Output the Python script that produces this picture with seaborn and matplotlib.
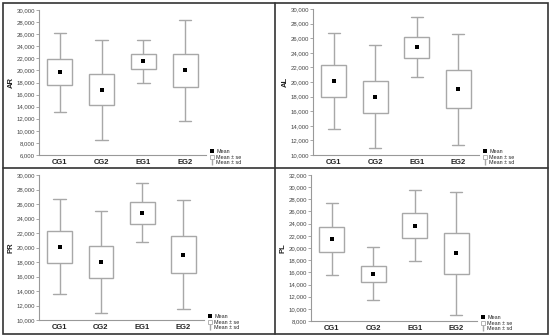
import numpy as np
import pandas as pd
import matplotlib
matplotlib.use("Agg")
import matplotlib.pyplot as plt
import seaborn as sns
from matplotlib.lines import Line2D
from matplotlib.patches import Rectangle

sns.set_theme(style="white")
plt.rcParams['font.family'] = ['Liberation Sans', 'DejaVu Sans']

groups = ["CG1", "CG2", "EG1", "EG2"]
panels = ["AR", "AL", "PR", "PL"]

# per panel: mean, mean-se, mean+se, mean-sd, mean+sd
mean = {"AR": [19.7, 16.8, 21.5, 20.0],
        "AL": [20.1, 18.0, 24.8, 19.0],
        "PR": [20.1, 18.0, 24.8, 19.0],
        "PL": [21.4, 15.8, 23.6, 19.1]}
se_lo = {"AR": [17.6, 14.2, 20.2, 17.3],
         "AL": [17.9, 15.8, 23.3, 16.5],
         "PR": [17.9, 15.8, 23.3, 16.5],
         "PL": [19.4, 14.4, 21.6, 15.7]}
se_hi = {"AR": [21.9, 19.4, 22.8, 22.8],
         "AL": [22.3, 20.2, 26.2, 21.6],
         "PR": [22.3, 20.2, 26.3, 21.6],
         "PL": [23.4, 17.1, 25.7, 22.4]}
sd_lo = {"AR": [13.2, 8.5, 17.9, 11.7],
         "AL": [13.6, 11.0, 20.7, 11.4],
         "PR": [13.6, 11.0, 20.7, 11.5],
         "PL": [15.5, 11.4, 17.9, 9.0]}
sd_hi = {"AR": [26.2, 25.1, 25.1, 28.4],
         "AL": [26.7, 25.1, 28.9, 26.6],
         "PR": [26.7, 25.1, 28.9, 26.6],
         "PL": [27.4, 20.2, 29.5, 29.2]}
ylims = {"AR": (6000, 30000), "AL": (10000, 30000),
         "PR": (10000, 30000), "PL": (8000, 32000)}

W, H = 550, 336
fig = plt.figure(figsize=(5.5, 3.36), dpi=100)

# axes rectangles in pixel coords: left, right, top, bottom
rects = {"AR": (39, 206, 10, 155), "AL": (313, 479, 9, 155),
         "PR": (39, 204, 175, 320), "PL": (311, 477, 175, 321)}

gray = "#a8a8a8"
for p in panels:
    l, r, t, b = rects[p]
    ax = fig.add_axes([l / W, 1 - b / H, (r - l) / W, (b - t) / H])
    rows = []
    for i, g in enumerate(groups):
        for v in [sd_lo[p][i], se_lo[p][i], mean[p][i], se_hi[p][i], sd_hi[p][i]]:
            rows.append({"group": g, "value": v * 1000})
    df = pd.DataFrame(rows)
    sns.boxplot(data=df, x="group", y="value", order=groups, whis=(0, 100),
                width=0.6, color="white", linecolor=gray, linewidth=1.0,
                medianprops={"linewidth": 0}, showfliers=False, ax=ax)
    sns.pointplot(x=groups, y=[m * 1000 for m in mean[p]], order=groups,
                  linestyle="none", marker="s", markersize=3.0,
                  markeredgewidth=0, color="black",
                  errorbar=None, ax=ax)
    ax.set_xlim(-0.5, 3.5)
    lo, hi = ylims[p]
    ax.set_ylim(lo, hi)
    ax.set_yticks(np.arange(lo, hi + 1, 2000))
    ax.set_yticklabels([f"{v:,}" for v in np.arange(lo, hi + 1, 2000)],
                       fontsize=4.3, color="#444444")
    ax.set_xticks(range(4))
    ax.set_xticklabels(groups, fontsize=5.5, fontweight="bold", color="#222222")
    ax.set_xlabel("")
    ax.set_ylabel(p, fontsize=5.5, fontweight="bold", color="#222222", labelpad=1)
    for s in ["top", "right"]:
        ax.spines[s].set_visible(False)
    for s in ["left", "bottom"]:
        ax.spines[s].set_color("#999999")
        ax.spines[s].set_linewidth(0.8)
    ax.tick_params(axis="y", length=2, width=0.6, color="#999999", pad=1, left=True)
    ax.tick_params(axis="x", length=0, pad=3)
    ax.set_facecolor("white")

    handles = [Line2D([], [], marker="s", color="black", linestyle="none",
                      markersize=2.4, markeredgewidth=0),
               Rectangle((0, 0), 1, 1, facecolor="white", edgecolor=gray, linewidth=0.6),
               Line2D([], [], marker="|", color=gray, linestyle="none", markersize=5)]
    ax.legend(handles, ["Mean", "Mean \u00b1 se", "Mean \u00b1 sd"],
              loc="lower left", bbox_to_anchor=(1.01, -0.09), fontsize=3.9,
              frameon=False, handlelength=0.7, handleheight=0.8,
              labelspacing=0.15, borderpad=0, handletextpad=0.4)

# panel frames
lc = "#333333"
fig.add_artist(Rectangle((2.5 / W, 1 - 333.5 / H), 545 / W, 331 / H,
                         transform=fig.transFigure, fill=False,
                         edgecolor=lc, linewidth=1.2))
fig.add_artist(Line2D([275 / W, 275 / W], [1 - 2.5 / H, 1 - 333.5 / H],
                      transform=fig.transFigure, color=lc, linewidth=1.2))
fig.add_artist(Line2D([2.5 / W, 547.5 / W], [1 - 168 / H, 1 - 168 / H],
                      transform=fig.transFigure, color=lc, linewidth=1.2))

fig.savefig("out.png", dpi=100, facecolor="white")
